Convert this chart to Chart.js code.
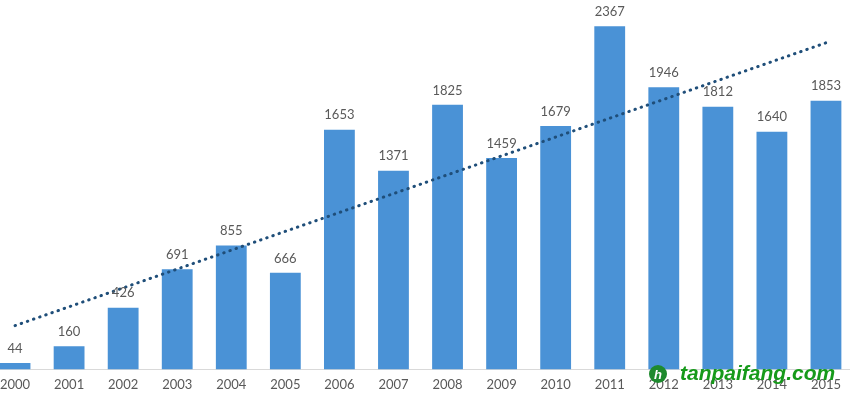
<!DOCTYPE html>
<html>
<head>
<meta charset="utf-8">
<script src="https://cdn.jsdelivr.net/npm/chart.js"></script>
<style>
  html, body { margin: 0; padding: 0; background: #ffffff; overflow: hidden; }
  #wrap { position: absolute; left: -12px; top: 0; width: 865px; height: 405px; }
</style>
</head>
<body>
<div id="wrap"><canvas id="chart"></canvas></div>
<script>
// Data
const years = ['2000', '2001', '2002', '2003', '2004', '2005', '2006', '2007',
               '2008', '2009', '2010', '2011', '2012', '2013', '2014', '2015'];
const counts = [44, 160, 426, 691, 855, 666, 1653, 1371,
                1825, 1459, 1679, 2367, 1946, 1812, 1640, 1853];
// dotted trend line: value at first and last year
const trendEnds = [302, 2253];

const trendData = years.map((y, i) => {
    if (i === 0) return trendEnds[0];
    if (i === years.length - 1) return trendEnds[1];
    return null;
});

// value labels above bars
const barLabels = {
    id: 'barLabels',
    afterDatasetsDraw(chart) {
        const ctx = chart.ctx;
        const meta = chart.getDatasetMeta(1);
        ctx.save();
        ctx.font = '13px Lato, "Open Sans", sans-serif';
        ctx.fillStyle = '#595959';
        ctx.textAlign = 'center';
        ctx.textBaseline = 'bottom';
        meta.data.forEach((bar, i) => {
            ctx.fillText(String(counts[i]), bar.x, bar.y - 8);
        });
        ctx.restore();
    }
};

// site watermark, bottom right
const watermark = {
    id: 'watermark',
    afterDraw(chart) {
        const ctx = chart.ctx;
        ctx.save();
        const cx = 670, cy = 374;
        ctx.fillStyle = '#1e8a2e';
        ctx.beginPath();
        ctx.arc(cx, cy, 9, 0, Math.PI * 2);
        ctx.fill();
        ctx.fillStyle = '#ffffff';
        ctx.font = 'bold italic 13px "Liberation Sans", sans-serif';
        ctx.textAlign = 'center';
        ctx.textBaseline = 'middle';
        ctx.fillText('h', cx, cy + 1);
        ctx.fillStyle = '#169a1a';
        ctx.font = 'bold italic 21px "Liberation Sans", sans-serif';
        ctx.textAlign = 'left';
        ctx.fillText('tanpaifang.com', 692, cy, 158);
        ctx.restore();
    }
};

new Chart(document.getElementById('chart'), {
    data: {
        labels: years,
        datasets: [{
            type: 'line',
            data: trendData,
            spanGaps: true,
            borderColor: '#1f4e79',
            borderWidth: 3,
            borderDash: [0.5, 6],
            borderCapStyle: 'round',
            pointRadius: 0,
            fill: false,
            order: 0
        }, {
            type: 'bar',
            data: counts,
            backgroundColor: '#4a92d6',
            categoryPercentage: 1,
            barPercentage: 0.57,
            order: 1
        }]
    },
    options: {
        responsive: true,
        maintainAspectRatio: false,
        animation: false,
        layout: { padding: { top: 7, bottom: 4, left: 0, right: 0 } },
        plugins: {
            legend: { display: false },
            tooltip: { enabled: false }
        },
        scales: {
            x: {
                grid: { display: false, drawTicks: false, tickLength: 0 },
                border: { display: true, color: '#d9d9d9', width: 1 },
                ticks: {
                    padding: 8,
                    color: '#595959',
                    font: { size: 13, family: 'Lato, "Open Sans", sans-serif' },
                    maxRotation: 0,
                    autoSkip: false
                }
            },
            y: {
                display: false,
                min: 0,
                max: 2500
            }
        }
    },
    plugins: [barLabels, watermark]
});
</script>
</body>
</html>
